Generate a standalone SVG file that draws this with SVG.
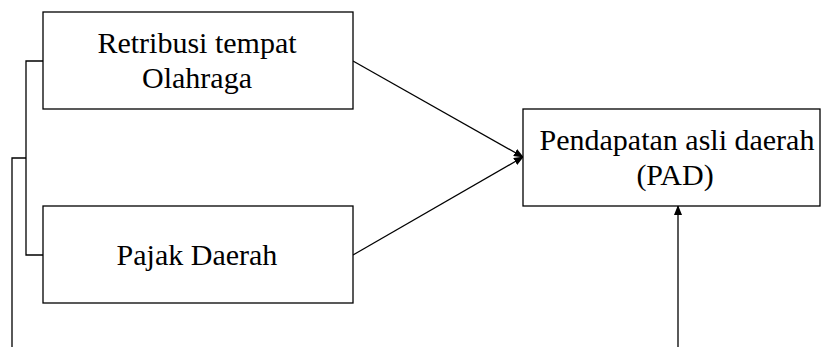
<svg xmlns="http://www.w3.org/2000/svg" width="821" height="347" viewBox="0 0 821 347">
<style>
.box{fill:#fff;stroke:#000;stroke-width:1.3}
.ln{fill:none;stroke:#000;stroke-width:1.3}
text{font-family:"Liberation Serif","Times New Roman",serif;font-size:30px;fill:#000;text-anchor:middle}
</style>
<defs>
<marker id="ah" markerWidth="10" markerHeight="8" refX="9" refY="4" orient="auto" markerUnits="userSpaceOnUse">
<path d="M0,0 L10,4 L0,8 Z" fill="#000"/>
</marker>
</defs>
<rect width="821" height="347" fill="#fff"/>
<g id="connectors">
<path class="ln" d="M43,61 H26 V255 H43"/>
<path class="ln" d="M26,158 H12 V347"/>
<line class="ln" x1="353" y1="61" x2="523" y2="157" marker-end="url(#ah)"/>
<line class="ln" x1="353" y1="255" x2="523" y2="157" marker-end="url(#ah)"/>
<line class="ln" x1="678" y1="347" x2="678" y2="206" marker-end="url(#ah)"/>
</g>
<g id="retribusi">
<rect class="box" x="43" y="12" width="310" height="97"/>
<text x="197" y="53">Retribusi tempat</text>
<text x="197" y="88">Olahraga</text>
</g>
<g id="pajak">
<rect class="box" x="43" y="206" width="310" height="97"/>
<text x="197" y="265">Pajak Daerah</text>
</g>
<g id="pad">
<rect class="box" x="523" y="109" width="297" height="97"/>
<text x="677" y="150">Pendapatan asli daerah</text>
<text x="675" y="185">(PAD)</text>
</g>
</svg>
